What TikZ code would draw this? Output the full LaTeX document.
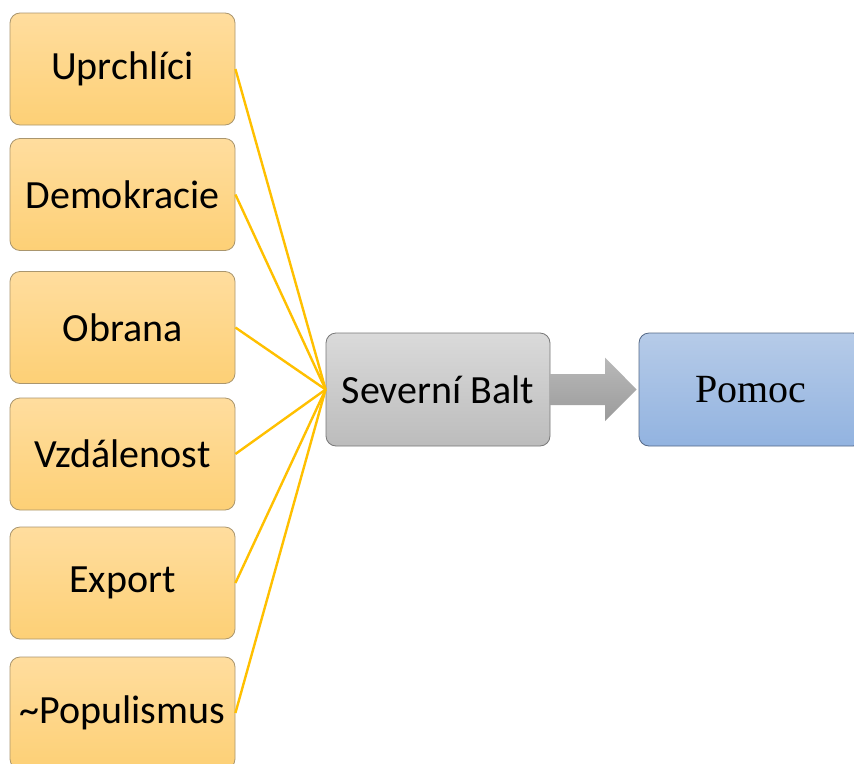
\documentclass[tikz,border=0pt]{standalone}
\usepackage{fontspec}
\setmainfont{Carlito}
\newfontfamily\timesf{Liberation Serif}
\usetikzlibrary{calc,shadings}
\definecolor{orT}{RGB}{255,221,158}
\definecolor{orB}{RGB}{253,208,118}
\definecolor{orD}{RGB}{170,150,110}
\definecolor{grT}{RGB}{218,218,218}
\definecolor{grB}{RGB}{188,188,188}
\definecolor{grD}{RGB}{120,120,120}
\definecolor{blT}{RGB}{182,203,232}
\definecolor{blB}{RGB}{146,179,224}
\definecolor{blD}{RGB}{85,105,135}
\definecolor{arT}{RGB}{185,185,185}
\definecolor{arB}{RGB}{155,155,155}
\definecolor{gold}{RGB}{255,192,0}
\tikzset{
  basebox/.style={rectangle, rounded corners=10pt, minimum width=225pt, minimum height=112pt, inner sep=0pt, line width=0.8pt, font=\fontsize{40}{42}\selectfont},
  obox/.style={basebox, draw=orD, top color=orT, bottom color=orB},
  gbox/.style={basebox, minimum width=224pt, minimum height=113pt, draw=grD, top color=grT, bottom color=grB},
  bbox/.style={basebox, minimum width=224pt, minimum height=113pt, draw=blD, top color=blT, bottom color=blB, font=\timesf\fontsize{40}{42}\selectfont},
  conn/.style={draw=gold, line width=2.4pt},
  bigarrow/.style={top color=arT, bottom color=arB, draw=none}
}
\begin{document}
\begin{tikzpicture}[x=1pt,y=-1pt]
\useasboundingbox (0,0) rectangle (854,763);
\clip (0,0) rectangle (854,763);
\fill[white] (0,0) rectangle (854,763);
\node[obox] (u) at (122.5,69) {Uprchlíci};
\node[obox] (d) at (122.5,194.5) {Demokracie};
\node[obox] (o) at (122.5,327.5) {Obrana};
\node[obox] (v) at (122.5,454) {Vzdálenost};
\node[obox] (e) at (122.5,583) {Export};
\node[obox] (p) at (122.5,713) {\textasciitilde Populismus};
\node[gbox] (sb) at (438,389.5) {Severní Balt};
\node[bbox] (pm) at (751,389.5) {Pomoc};
\foreach \n in {u,d,o,v,e,p} \draw[conn] (\n.east) -- (sb.west);
\path[bigarrow] (sb.east) ++(0,-15.5) -- (605,374) -- (605,357.5) -- ($(pm.west)+(-2,0)$) -- (605,421) -- (605,405) -- ($(sb.east)+(0,15.5)$) -- cycle;
\end{tikzpicture}
\end{document}
